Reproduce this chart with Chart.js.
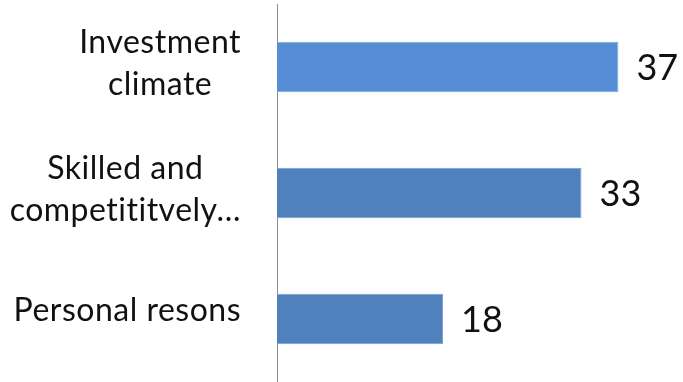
<!DOCTYPE html>
<html><head><meta charset="utf-8">
<script src="https://cdn.jsdelivr.net/npm/chart.js@4"></script>
<style>html,body{margin:0;padding:0;background:#fff;overflow:hidden}</style>
</head><body>
<canvas id="c" width="683" height="382"></canvas>
<script>
const categories = [["Investment", "climate"], ["Skilled and", "competititvely…"], ["Personal resons"]];
const values = [37, 33, 18];
const barColors = ["#558ED5", "#4F81BD", "#4F81BD"];
const borderColors = ["#7FA9DD", "#7A9FCB", "#7A9FCB"];

const FONT = "Lato";
const CAT_SIZE = 32;
const VAL_SIZE = 36;

const catLabels = {
  id: 'catLabels',
  afterDraw(chart) {
    const ctx = chart.ctx, y = chart.scales.y;
    ctx.save();
    ctx.font = CAT_SIZE + "px " + FONT;
    if ('letterSpacing' in ctx) ctx.letterSpacing = "0.5px";
    ctx.fillStyle = "#111";
    ctx.textBaseline = "middle";
    ctx.textAlign = "center";
    const lh = 42;
    categories.forEach((lines, i) => {
      const yc = y.getPixelForTick(i);
      const w = Math.max(...lines.map(l => ctx.measureText(l).width));
      const right = chart.chartArea.left - 36;
      const cx = right - w / 2;
      const off = lines.length > 1 ? -3 : -8;
      lines.forEach((l, j) => {
        ctx.fillText(l, cx, yc + off + (j - (lines.length - 1) / 2) * lh);
      });
    });
    ctx.restore();
  }
};

const valLabels = {
  id: 'valLabels',
  afterDatasetsDraw(chart) {
    const ctx = chart.ctx;
    const meta = chart.getDatasetMeta(0);
    ctx.save();
    ctx.font = VAL_SIZE + "px " + FONT;
    ctx.fillStyle = "#111";
    ctx.textBaseline = "middle";
    ctx.textAlign = "left";
    meta.data.forEach((bar, i) => {
      ctx.fillText(String(values[i]), bar.x + 18, bar.y + 1);
    });
    ctx.restore();
  }
};

new Chart(document.getElementById('c'), {
  type: 'bar',
  data: {
    labels: categories,
    datasets: [{
      data: values,
      backgroundColor: barColors,
      borderColor: borderColors,
      borderWidth: 1,
      categoryPercentage: 1,
      barPercentage: 0.4
    }]
  },
  options: {
    indexAxis: 'y',
    responsive: false,
    animation: false,
    devicePixelRatio: 1,
    layout: { padding: { top: 4, bottom: 0, left: 0, right: 0 } },
    plugins: { legend: { display: false }, tooltip: { enabled: false } },
    scales: {
      x: { display: false, min: 0, max: 44 },
      y: {
        display: true,
        grid: { display: false, drawTicks: false },
        border: { display: true, color: "#8C8C8C", width: 1 },
        ticks: { display: false },
        afterFit(scale) { scale.width = 277; }
      }
    }
  },
  plugins: [catLabels, valLabels]
});
</script>
</body></html>
